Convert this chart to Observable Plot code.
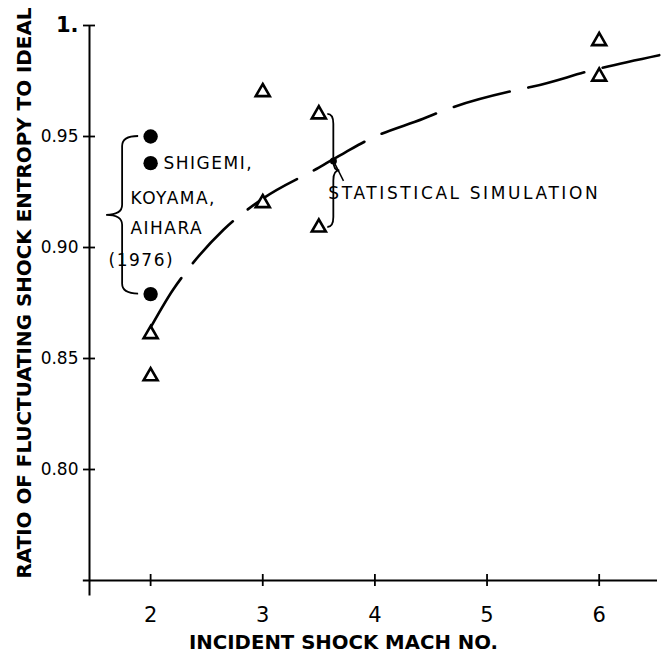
<!DOCTYPE html>
<html>
<head>
<meta charset="utf-8">
<script src="https://cdn.jsdelivr.net/npm/d3@7"></script>
<script src="https://cdn.jsdelivr.net/npm/@observablehq/plot@0.6"></script>
<style>
  html, body { margin: 0; padding: 0; background: #ffffff; }
  #chart svg { display: block; overflow: visible; }
</style>
</head>
<body>
<div id="chart"></div>
<script>
// ---- data ----
const xTicks = [2, 3, 4, 5, 6];
const xTickLabels = ["2", "3", "4", "5", "6"];
const yTicks = [0.80, 0.85, 0.90, 0.95, 1.0];
const yTickLabels = ["0.80", "0.85", "0.90", "0.95", "1."];

// Shigemi, Koyama, Aihara (1976) – filled circles
const circleMach = [2, 2, 2];
const circleRatio = [0.950, 0.938, 0.879];

// Statistical simulation – open triangles
const triMach = [2, 2, 3, 3, 3.5, 3.5, 6, 6];
const triRatio = [0.861, 0.842, 0.970, 0.920, 0.960, 0.909, 0.993, 0.977];

// dashed fitted curve
const curveMach = [2.0, 2.2, 2.3, 2.65, 3.0, 3.5, 3.74, 3.96, 4.43, 4.63, 5.27, 5.41, 5.95, 6.57];
const curveRatio = [0.864, 0.881, 0.888, 0.908, 0.922, 0.936, 0.943, 0.949, 0.958, 0.962, 0.971, 0.9725, 0.980, 0.987];

// statistical simulation mean marker and its label
const simMach = [3.63];
const simRatio = [0.939];
const simLabel = ["STATISTICAL SIMULATION"];
const simLabelMach = [3.585];
const simLabelRatio = [0.9243];

// Shigemi label lines
const refLabels = ["SHIGEMI,", "KOYAMA,", "AIHARA", "(1976)"];
const refLabelMach = [2.115, 1.82, 1.82, 1.625];
const refLabelRatio = [0.938, 0.922, 0.9086, 0.894];

const xTitle = "INCIDENT SHOCK MACH NO.";
const yTitle = "RATIO OF FLUCTUATING SHOCK ENTROPY TO IDEAL";

const xDomain = [1.455, 6.52];
const yDomain = [0.75, 1.0];

// ---- build tables ----
const circles = circleMach.map((m, i) => ({mach: m, ratio: circleRatio[i]}));
const triangles = triMach.map((m, i) => ({mach: m, ratio: triRatio[i]}));
const curve = curveMach.map((m, i) => ({mach: m, ratio: curveRatio[i]}));
const sim = simMach.map((m, i) => ({mach: m, ratio: simRatio[i]}));
const simText = simLabel.map((t, i) => ({t, mach: simLabelMach[i], ratio: simLabelRatio[i]}));
const refText = refLabels.map((t, i) => ({t, mach: refLabelMach[i], ratio: refLabelRatio[i]}));
const yFmt = new Map(yTicks.map((v, i) => [v, yTickLabels[i]]));
const xFmt = new Map(xTicks.map((v, i) => [v, xTickLabels[i]]));

// curly brace as a custom mark positioned through the scales
function brace(xVal, yTop, yBot, offsetPx, widthPx, dir) {
  return (index, scales) => {
    const x0 = scales.x(xVal) + offsetPx;
    const ya = scales.y(yTop), yb = scales.y(yBot);
    const ym = (ya + yb) / 2;
    const h = dir * widthPx * 0.5, w = dir * widthPx;
    const q = Math.min(10, (yb - ya) / 4);
    const d = `M${x0},${ya} Q${x0 + h},${ya} ${x0 + h},${ya + q} L${x0 + h},${ym - q} Q${x0 + h},${ym} ${x0 + w},${ym} ` +
              `Q${x0 + h},${ym} ${x0 + h},${ym + q} L${x0 + h},${yb - q} Q${x0 + h},${yb} ${x0},${yb}`;
    const p = document.createElementNS("http://www.w3.org/2000/svg", "path");
    p.setAttribute("d", d);
    p.setAttribute("fill", "none");
    p.setAttribute("stroke", "black");
    p.setAttribute("stroke-width", "1.8");
    const g = document.createElementNS("http://www.w3.org/2000/svg", "g");
    g.appendChild(p);
    return g;
  };
}

const font = "DejaVu Sans, sans-serif";

const chart = Plot.plot({
  width: 665,
  height: 663,
  marginLeft: 89,
  marginRight: 8,
  marginTop: 25,
  marginBottom: 83,
  style: {fontFamily: font, color: "black", background: "white", overflow: "visible"},
  x: {domain: xDomain, axis: null},
  y: {domain: yDomain, axis: null},
  marks: [
    // axis lines
    Plot.ruleY([yDomain[0]], {x1: 1.40, x2: xDomain[1], stroke: "black", strokeWidth: 2}),
    Plot.ruleX([xDomain[0]], {y1: 0.743, y2: yDomain[1], stroke: "black", strokeWidth: 2}),
    Plot.axisY(yTicks, {anchor: "left", tickSize: 12, dx: 6, tickPadding: 5, strokeWidth: 1.8,
      tickFormat: d => yFmt.get(d), fontSize: 17, fill: "black", label: null}),
    Plot.axisX(xTicks, {anchor: "bottom", tickSize: 12, dy: -6, tickPadding: 21, strokeWidth: 1.8,
      tickFormat: d => xFmt.get(d), fontSize: 21, fill: "black", label: null}),
    // titles
    Plot.text([yTitle], {text: d => d, frameAnchor: "left", textAnchor: "middle", lineAnchor: "middle",
      dx: -65, dy: -10, rotate: -90, fontSize: 19, fontWeight: "bold", fill: "black"}),
    Plot.text([xTitle], {text: d => d, frameAnchor: "bottom", textAnchor: "middle", lineAnchor: "middle",
      dx: -30, dy: 62, fontSize: 19, fontWeight: "bold", fill: "black"}),
    // dashed curve
    Plot.line(curve, {x: "mach", y: "ratio", curve: "monotone-x", stroke: "black",
      strokeWidth: 2.6, strokeDasharray: "58,19"}),
    // braces
    brace(2, circleRatio[0], circleRatio[2], -12, 32, -1),
    brace(3.5, 0.960, 0.909, 9, 12, 1),
    // points
    Plot.dot(triangles, {x: "mach", y: "ratio", symbol: "triangle", r: 5.2, fill: "white",
      stroke: "black", strokeWidth: 2.6}),
    Plot.dot(circles, {x: "mach", y: "ratio", r: 7.2, fill: "black"}),
    // statistical simulation marker + leader
    Plot.link(sim, {x1: d => d.mach + 0.09, y1: d => d.ratio - 0.009, x2: "mach", y2: "ratio",
      stroke: "black", strokeWidth: 1.5}),
    Plot.dot(sim, {x: "mach", y: "ratio", r: 3.5, fill: "black"}),
    // labels
    Plot.text(simText, {x: "mach", y: "ratio", text: "t", textAnchor: "start", fontSize: 17,
      fill: "black"}),
    Plot.text(refText, {x: "mach", y: "ratio", text: "t", textAnchor: "start", fontSize: 17,
      fill: "black"})
  ]
});

document.getElementById("chart").appendChild(chart);

// post styling: lengths of titles, letter spacing of notes, and the bold "1." tick
const svg = d3.select(chart);
svg.selectAll("text").each(function() {
  const t = d3.select(this);
  const s = t.text();
  if (s === yTitle) t.attr("textLength", 571).attr("lengthAdjust", "spacingAndGlyphs");
  if (s === xTitle) t.attr("textLength", 309).attr("lengthAdjust", "spacingAndGlyphs");
  if (s === "1.") t.attr("font-weight", "bold").attr("font-size", 21);
  if (refLabels.includes(s)) t.style("letter-spacing", "1.5px");
  if (simLabel.includes(s)) t.style("letter-spacing", "2.6px");
});
</script>
</body>
</html>
